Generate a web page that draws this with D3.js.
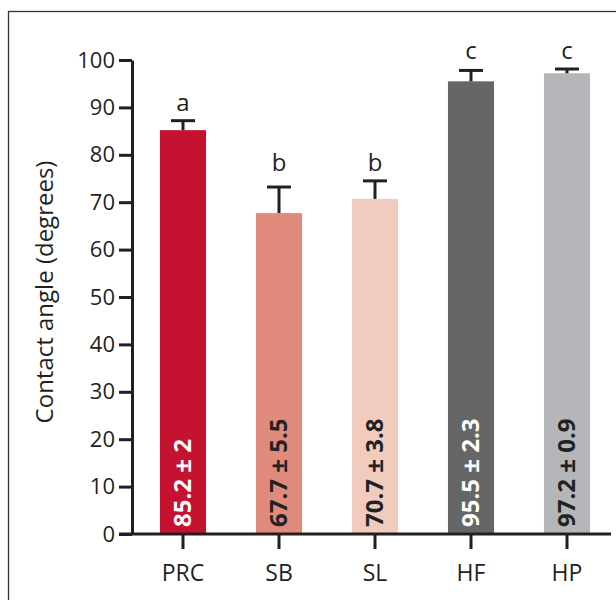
<!DOCTYPE html>
<html>
<head>
<meta charset="utf-8">
<script src="https://cdn.jsdelivr.net/npm/d3@7"></script>
<style>
  body { margin: 0; background: #fff; }
  text { font-family: "Open Sans", "Noto Sans", sans-serif; }
</style>
</head>
<body>
<div class="chart_box"></div>
<script>
var groups = ["PRC", "SB", "SL", "HF", "HP"];
var means = [85.2, 67.7, 70.7, 95.5, 97.2];
var sds = [2, 5.5, 3.8, 2.3, 0.9];
var letters = ["a", "b", "b", "c", "c"];
var labels = ["85.2 \u00b1 2", "67.7 \u00b1 5.5", "70.7 \u00b1 3.8", "95.5 \u00b1 2.3", "97.2 \u00b1 0.9"];
var yTicks = [0, 10, 20, 30, 40, 50, 60, 70, 80, 90, 100];

var colors = ["#c41230", "#e08a7c", "#f2cbbf", "#666666", "#b5b6ba"];
var labelColors = ["#ffffff", "#222222", "#222222", "#ffffff", "#222222"];
var ink = "#231f20";

var width = 616, height = 600;

var svg = d3.select(".chart_box")
  .append("svg")
  .attr("width", width)
  .attr("height", height);

// frame round the figure (runs off the right and bottom)
svg.append("rect")
  .attr("x", 8.5)
  .attr("y", 11.5)
  .attr("width", 700)
  .attr("height", 700)
  .attr("fill", "none")
  .attr("stroke", "#333")
  .attr("stroke-width", 1.3);

var x = d3.scaleBand()
  .domain(groups)
  .range([135, 615])
  .paddingInner(0.52)
  .paddingOuter(0.26);

var y = d3.scaleLinear()
  .domain([0, 100])
  .range([534, 60]);

var data = groups.map(function(g, i) {
  return { g: g, mean: means[i], sd: sds[i], letter: letters[i], label: labels[i], i: i };
});

// bars
svg.selectAll("rect.bar")
  .data(data)
  .enter().append("rect")
  .attr("class", "bar")
  .attr("x", function(d) { return x(d.g); })
  .attr("width", x.bandwidth())
  .attr("y", function(d) { return y(d.mean); })
  .attr("height", function(d) { return y(0) - y(d.mean); })
  .attr("fill", function(d) { return colors[d.i]; });

// error bars (upper only)
var cap = 12;
data.forEach(function(d) {
  var cx = x(d.g) + x.bandwidth() / 2;
  svg.append("line")
    .attr("x1", cx).attr("x2", cx)
    .attr("y1", y(d.mean)).attr("y2", y(d.mean + d.sd))
    .attr("stroke", ink).attr("stroke-width", 3);
  svg.append("line")
    .attr("x1", cx - cap).attr("x2", cx + cap)
    .attr("y1", y(d.mean + d.sd)).attr("y2", y(d.mean + d.sd))
    .attr("stroke", ink).attr("stroke-width", 3);
});

// significance letters sit above the highest cap of their group
data.forEach(function(d) {
  var top = d3.max(data.filter(function(e) { return e.letter == d.letter; }),
                   function(e) { return e.mean + e.sd; });
  svg.append("text")
    .attr("x", x(d.g) + x.bandwidth() / 2)
    .attr("y", y(top) - 10)
    .attr("text-anchor", "middle")
    .attr("font-size", "24px")
    .attr("fill", ink)
    .text(d.letter);
});

// value labels inside bars
data.forEach(function(d) {
  var cx = x(d.g) + x.bandwidth() / 2;
  svg.append("text")
    .attr("transform", "translate(" + (cx + 8) + "," + (y(0) - 7) + ") rotate(-90)")
    .attr("text-anchor", "start")
    .attr("font-size", "24px")
    .attr("font-weight", "bold")
    .attr("fill", labelColors[d.i])
    .text(d.label);
});

// y axis
var yAxis = svg.append("g")
  .attr("transform", "translate(132,0)")
  .call(d3.axisLeft(y).tickValues(yTicks).tickSize(13).tickSizeOuter(0).tickPadding(4));

// x axis
var xAxis = svg.append("g")
  .attr("transform", "translate(0," + y(0) + ")")
  .call(d3.axisBottom(x).tickSize(15).tickSizeOuter(0).tickPadding(16));
xAxis.select(".domain").remove();
svg.append("line")
  .attr("x1", 119).attr("x2", 611)
  .attr("y1", y(0)).attr("y2", y(0))
  .attr("stroke", ink).attr("stroke-width", 3);

[yAxis, xAxis].forEach(function(a) {
  a.selectAll("path, line").attr("stroke", ink).attr("stroke-width", 3);
  a.selectAll("text")
    .attr("fill", ink)
    .attr("font-size", "22px")
    .style("font-family", "'Open Sans', 'Noto Sans', sans-serif");
});
xAxis.selectAll("text").attr("font-size", "23px");

// y axis title
svg.append("text")
  .attr("transform", "translate(53," + ((y(0) + y(100)) / 2 - 5) + ") rotate(-90)")
  .attr("text-anchor", "middle")
  .attr("font-size", "24px")
  .attr("fill", ink)
  .text("Contact angle (degrees)");
</script>
</body>
</html>
